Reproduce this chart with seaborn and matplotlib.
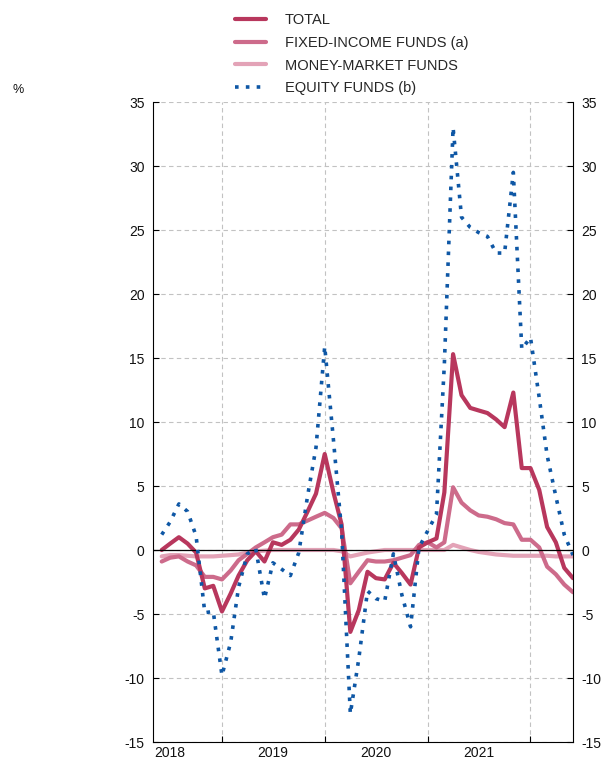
import pandas as pd
import numpy as np
import matplotlib.pyplot as plt
import matplotlib.transforms as mtransforms
import seaborn as sns

# monthly data, Jun 2018 - Jun 2022 (%)
months = pd.date_range("2018-06-01", "2022-06-01", freq="MS")
total = [0.0, 0.5, 1.0, 0.5, -0.2, -3.0, -2.8, -4.8, -3.4, -2.0,
         -0.8, -0.1, -0.9, 0.6, 0.4, 0.8, 1.6, 3.0, 4.4, 7.5,
         4.5, 2.0, -6.4, -4.7, -1.7, -2.2, -2.3, -1.0, -1.8, -2.7,
         0.2, 0.6, 0.9, 4.5, 15.3, 12.1, 11.1, 10.9, 10.7, 10.2,
         9.6, 12.3, 6.4, 6.4, 4.7, 1.8, 0.6, -1.4, -2.2]
fixed_income = [-0.9, -0.6, -0.5, -0.9, -1.2, -2.1, -2.1, -2.3, -1.6, -0.8,
                -0.3, 0.2, 0.6, 1.0, 1.2, 2.0, 2.0, 2.3, 2.6, 2.9,
                2.5, 1.7, -2.6, -1.7, -0.8, -0.9, -0.9, -0.8, -0.6, -0.4,
                0.4, 0.6, 0.2, 0.6, 4.9, 3.7, 3.1, 2.7, 2.6, 2.4,
                2.1, 2.0, 0.8, 0.8, 0.2, -1.3, -1.9, -2.7, -3.3]
money_market = [-0.5, -0.4, -0.4, -0.45, -0.5, -0.5, -0.5, -0.45, -0.4, -0.35,
                -0.2, -0.1, -0.05, 0.0, 0.0, 0.0, 0.0, 0.0, 0.0, 0.0,
                0.0, -0.1, -0.5, -0.35, -0.2, -0.1, 0.0, 0.0, 0.0, 0.0,
                0.0, 0.0, 0.0, 0.0, 0.4, 0.2, 0.0, -0.15, -0.25, -0.35,
                -0.4, -0.45, -0.45, -0.45, -0.45, -0.45, -0.5, -0.5, -0.5]
equity = [1.2, 2.2, 3.6, 3.0, 1.1, -4.9, -4.8, -9.8, -7.2, -2.9,
          -0.3, 0.1, -3.8, -1.0, -1.5, -2.0, -0.2, 4.2, 8.0, 15.9,
          8.6, 1.5, -12.8, -8.5, -3.2, -3.8, -4.0, -0.3, -3.5, -6.0,
          0.2, 1.5, 2.8, 14.5, 33.0, 26.0, 25.2, 24.8, 24.5, 23.2,
          23.2, 29.5, 15.7, 16.6, 11.9, 7.4, 4.2, 1.2, -0.4]

names = ["TOTAL", "FIXED-INCOME FUNDS (a)", "MONEY-MARKET FUNDS", "EQUITY FUNDS (b)"]
colors = ["#b8375d", "#cd6b8b", "#e3a3b7", "#0e57a5"]
year_labels = ["2018", "2019", "2020", "2021"]

sns.set_theme(style="white")
plt.rcParams["font.family"] = ["Liberation Sans", "DejaVu Sans"]
plt.rcParams["axes.unicode_minus"] = False

fig = plt.figure(figsize=(6.08, 7.59), dpi=100)
ax = fig.add_axes([153 / 608, 17 / 759, 420 / 608, 640 / 759])

# draw lightest first, equity on top
sns.lineplot(x=months, y=money_market, ax=ax, color=colors[2], lw=3, zorder=2.0, label=names[2])
sns.lineplot(x=months, y=fixed_income, ax=ax, color=colors[1], lw=3, zorder=2.1, label=names[1])
sns.lineplot(x=months, y=total, ax=ax, color=colors[0], lw=3, zorder=2.2, label=names[0])
sns.lineplot(x=months, y=equity, ax=ax, color=colors[3], lw=2.6, zorder=3,
             linestyle=(0, (1, 2)), label=names[3])

handles, labels = ax.get_legend_handles_labels()
ax.get_legend().remove()
order = [labels.index(n) for n in names]
fig.legend([handles[i] for i in order], [labels[i] for i in order],
           loc="upper left", bbox_to_anchor=(235 / 608, 1 - 13 / 759),
           frameon=False, fontsize=10.5, handlelength=2.1, handletextpad=1.3,
           labelspacing=0.6, borderpad=0, borderaxespad=0)

ax.axhline(0, color="black", lw=0.9, zorder=2.5)

ax.set_ylim(-15, 35)
ax.set_yticks(range(-15, 40, 5))
ax.set_xlim(pd.Timestamp("2018-05-01"), pd.Timestamp("2022-06-01"))
year_starts = pd.to_datetime(["2019-01-01", "2020-01-01", "2021-01-01", "2022-01-01"])
quarters = pd.date_range("2018-07-01", "2022-04-01", freq="QS")
ax.set_xticks(year_starts)
ax.set_xticks(quarters, minor=True)
ax.set_xticklabels([])
ax.set_xlabel("")
ax.set_ylabel("")

grid_kw = dict(color="#c2c2c2", lw=0.8, ls=(0, (4, 3)))
ax.yaxis.grid(True, **grid_kw)
ax.xaxis.grid(True, which="major", **grid_kw)

ax.tick_params(axis="both", which="both", direction="in", length=4, width=0.8,
               color="black", labelsize=10, labelcolor="#111111")
ax.tick_params(axis="y", left=True, right=True, labelleft=True, labelright=True, pad=6)
ax.tick_params(axis="x", bottom=True, top=False)

for side in ["left", "right", "bottom"]:
    ax.spines[side].set_color("black")
    ax.spines[side].set_linewidth(0.8)
ax.spines["top"].set_visible(False)

trans = mtransforms.blended_transform_factory(ax.transData, ax.transAxes)
for yl in year_labels:
    ax.text(pd.Timestamp(f"{yl}-07-01"), -0.006, yl, transform=trans,
            ha="center", va="top", fontsize=10, color="#111111")

fig.text(18 / 608, 1 - 90 / 759, "%", fontsize=9, ha="center", va="center", color="#111111")

fig.savefig("out.png", dpi=100)
